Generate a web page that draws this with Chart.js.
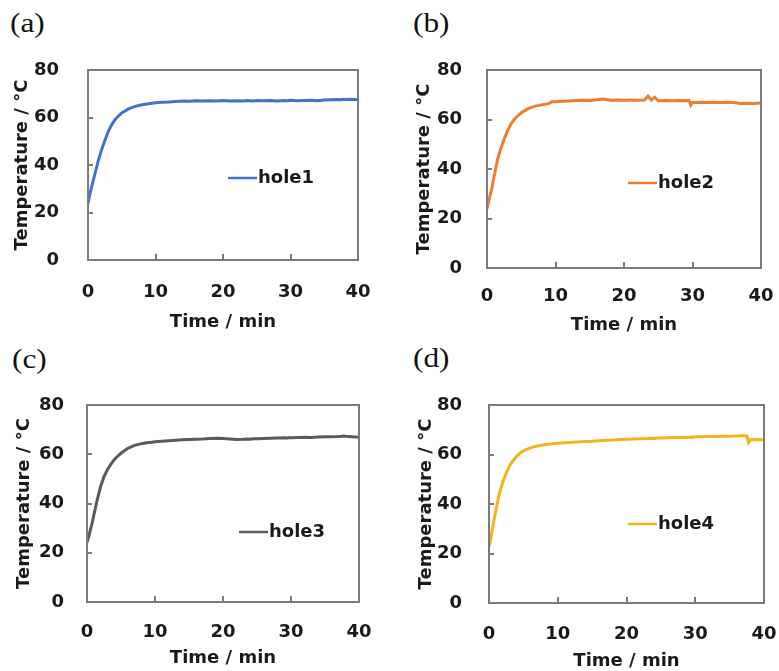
<!DOCTYPE html>
<html>
<head>
<meta charset="utf-8">
<script src="https://cdn.jsdelivr.net/npm/chart.js@4/dist/chart.umd.min.js"></script>
<style>
  body { margin: 0; background: #fff; overflow: hidden; }
  #wrap { position: relative; width: 779px; height: 671px; }
  canvas { position: absolute; }
  .tag { position: absolute; font-family: "Liberation Serif", serif; font-size: 28px; line-height: 28px;
         color: #111; transform: scaleX(1.12); transform-origin: left top; }
</style>
</head>
<body>
<div id="wrap">
  <div class="tag" style="left:10px;top:9px">(a)</div>
  <div class="tag" style="left:413px;top:9px">(b)</div>
  <div class="tag" style="left:12px;top:345px">(c)</div>
  <div class="tag" style="left:413px;top:344px">(d)</div>
  <canvas id="c1" width="385" height="290" style="left:0;top:45px"></canvas>
  <canvas id="c2" width="389" height="290" style="left:390px;top:45px"></canvas>
  <canvas id="c3" width="385" height="290" style="left:0;top:380px"></canvas>
  <canvas id="c4" width="389" height="291" style="left:390px;top:380px"></canvas>
</div>
<script>
// time in minutes
var times = [0,0.25,0.5,0.75,1,1.5,2,2.5,3,3.5,4,4.5,5,6,7,8,9,9.5,10,11,12,13,14,15,16,17,18,19,20,21,22,23,23.5,24,24.5,25,26,27,28,29,29.5,29.75,30,31,32,33,34,35,36,37,37.5,37.75,38,39,40];

var hole1 = [23.8,27.3,30.4,33.2,36.0,41.5,46.3,50.3,54.1,56.9,59.1,60.6,61.9,63.6,64.7,65.4,65.8,66.0,66.2,66.4,66.5,66.7,66.9,66.8,67.0,66.9,67.1,67.0,67.2,67.0,67.1,67.0,67.2,67.1,67.0,67.2,67.1,67.2,67.0,67.2,67.1,67.2,67.3,67.1,67.2,67.3,67.1,67.4,67.5,67.6,67.5,67.7,67.6,67.7,67.5];
var hole2 = [24.0,27.0,29.8,32.8,36.5,43.4,48.2,52.0,55.4,58.2,60.1,61.5,62.7,64.4,65.4,65.9,66.4,67.3,67.2,67.4,67.5,67.7,67.8,67.7,68.0,68.3,67.8,67.9,67.8,67.9,67.8,67.9,69.5,67.8,69.0,67.6,67.7,67.6,67.7,67.6,67.7,65.8,66.9,67.0,66.9,67.0,66.9,67.0,66.9,66.5,66.6,66.5,66.6,66.5,66.7];
var hole3 = [24.2,26.6,29.3,32.0,35.2,41.5,46.9,50.9,53.7,55.9,57.8,59.2,60.4,62.4,63.6,64.3,64.8,64.9,65.1,65.3,65.5,65.7,65.9,66.0,66.1,66.2,66.4,66.5,66.4,66.2,66.0,66.1,66.2,66.1,66.3,66.3,66.4,66.5,66.6,66.7,66.6,66.8,66.7,66.8,66.9,66.8,67.0,67.1,67.1,67.2,67.3,67.4,67.3,67.1,66.9];
var hole4 = [22.6,26.0,30.0,34.0,37.5,44.2,48.9,52.5,55.5,57.6,59.2,60.5,61.5,62.7,63.4,63.9,64.2,64.4,64.5,64.7,64.9,65.1,65.3,65.4,65.6,65.8,65.9,66.1,66.2,66.3,66.4,66.5,66.6,66.5,66.7,66.7,66.8,66.9,66.9,67.0,67.1,67.0,67.2,67.2,67.3,67.3,67.4,67.4,67.5,67.6,67.6,64.8,66.0,66.1,66.0];

var xTicks = [0, 10, 20, 30, 40];
var yTicks = [0, 20, 40, 60, 80];

Chart.defaults.font.family = '"DejaVu Sans", sans-serif';
Chart.defaults.font.size = 18;
Chart.defaults.font.weight = 'bold';
Chart.defaults.color = '#1a1a1a';

var axisColor = '#7a7a7a';

// frame round the plot, inside tick marks, and the legend inside the plot area
var frameLegend = {
  id: 'frameLegend',
  afterDraw: function(chart, args, opts) {
    var a = chart.chartArea, ctx = chart.ctx;
    var ds = chart.data.datasets[0];
    ctx.save();
    ctx.strokeStyle = axisColor;
    ctx.lineWidth = 2;
    ctx.beginPath();
    ctx.rect(Math.round(a.left), Math.round(a.top), Math.round(a.right - a.left), Math.round(a.bottom - a.top));
    ctx.stroke();
    var xs = chart.scales.x, ys = chart.scales.y;
    ctx.beginPath();
    xTicks.forEach(function(v) {
      var px = Math.round(xs.getPixelForValue(v));
      ctx.moveTo(px, a.bottom);
      ctx.lineTo(px, a.bottom - 6);
    });
    yTicks.forEach(function(v) {
      var py = Math.round(ys.getPixelForValue(v));
      ctx.moveTo(a.left, py);
      ctx.lineTo(a.left + 5, py);
    });
    ctx.stroke();
    var x = a.left + opts.dx, y = a.top + opts.dy;
    ctx.strokeStyle = ds.borderColor;
    ctx.lineWidth = 2.5;
    ctx.beginPath();
    ctx.moveTo(x, y);
    ctx.lineTo(x + 29, y);
    ctx.stroke();
    ctx.fillStyle = '#1a1a1a';
    ctx.font = 'bold 18px "DejaVu Sans"';
    ctx.textBaseline = 'middle';
    ctx.fillText(ds.label, x + 30, y);
    ctx.restore();
  }
};

function noPad(s) {
  s.paddingTop = 0; s.paddingBottom = 0; s.paddingLeft = 0; s.paddingRight = 0;
}

var panels = [
  { id: 'c1', label: 'hole1', values: hole1, color: '#4472C4', yWidth: 88, xHeight: 75, padTop: 25, padRight: 27,
    yTickPad: 21, xTickPad: 14, yTitlePad: 11.7, xTitlePad: 2.2, legend: { dx: 140, dy: 108 } },
  { id: 'c2', label: 'hole2', values: hole2, color: '#ED7D31', yWidth: 97, xHeight: 67, padTop: 25, padRight: 18,
    yTickPad: 17, xTickPad: 10, yTitlePad: 23.2, xTitlePad: -1, legend: { dx: 141, dy: 113 } },
  { id: 'c3', label: 'hole3', values: hole3, color: '#5a5a5a', yWidth: 87, xHeight: 68, padTop: 25, padRight: 26,
    yTickPad: 15, xTickPad: 12, yTitlePad: 13.2, xTitlePad: 0.5, legend: { dx: 152, dy: 127 } },
  { id: 'c4', label: 'hole4', values: hole4, color: '#F2B519', yWidth: 99, xHeight: 68, padTop: 25, padRight: 15,
    yTickPad: 19, xTickPad: 13, yTitlePad: 25.2, xTitlePad: -1.5, legend: { dx: 139, dy: 119 } }
];

panels.forEach(function(p) {
  var pts = times.map(function(t, i) { return { x: t, y: p.values[i] }; });
  new Chart(document.getElementById(p.id), {
    type: 'line',
    data: {
      datasets: [{
        label: p.label,
        data: pts,
        borderColor: p.color,
        borderWidth: 3,
        pointRadius: 0,
        tension: 0,
        fill: false
      }]
    },
    options: {
      responsive: false,
      animation: false,
      devicePixelRatio: 1,
      layout: { autoPadding: false, padding: { left: 0, top: p.padTop, right: p.padRight, bottom: 0 } },
      plugins: {
        legend: { display: false },
        tooltip: { enabled: false },
        frameLegend: p.legend
      },
      scales: {
        x: {
          type: 'linear',
          min: 0, max: 40,
          afterBuildTicks: function(s) { s.ticks = xTicks.map(function(v) { return { value: v }; }); },
          afterFit: function(s) { s.height = p.xHeight; noPad(s); },
          ticks: { padding: p.xTickPad, maxRotation: 0 },
          grid: { display: false },
          border: { display: false },
          title: { display: true, text: 'Time / min', padding: { top: 0, bottom: p.xTitlePad } }
        },
        y: {
          min: 0, max: 80,
          afterBuildTicks: function(s) { s.ticks = yTicks.map(function(v) { return { value: v }; }); },
          afterFit: function(s) { s.width = p.yWidth; noPad(s); },
          ticks: { padding: p.yTickPad },
          grid: { display: false },
          border: { display: false },
          title: { display: true, text: 'Temperature / °C', padding: { top: p.yTitlePad, bottom: 0 } }
        }
      }
    },
    plugins: [frameLegend]
  });
});
</script>
</body>
</html>
